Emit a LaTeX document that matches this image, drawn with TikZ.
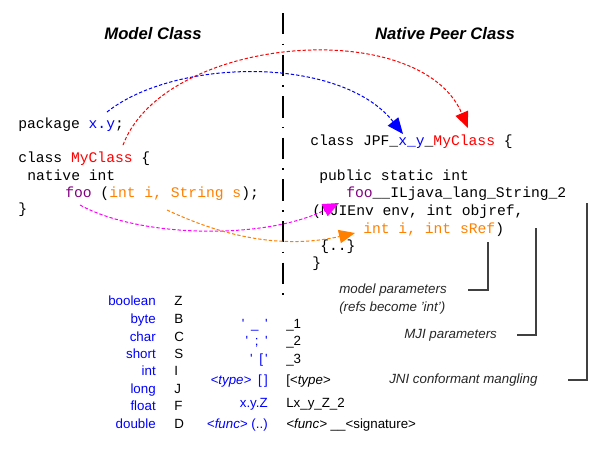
\documentclass[tikz,border=0pt]{standalone}
\usepackage{fontspec}
\setmainfont{Liberation Sans}
\setmonofont{Liberation Mono}
\usepackage{xcolor}
\usepackage{tikz}
\usetikzlibrary{
    arrows.meta
}
\definecolor{pkgblue}{RGB}{0,0,255}
\definecolor{clsred}{RGB}{255,0,0}
\definecolor{funcpurple}{RGB}{128,0,128}
\definecolor{argorange}{RGB}{255,128,0}
\definecolor{linkmagenta}{RGB}{255,0,255}
\tikzset{
    code/.style={
        anchor=base west, inner sep=0pt,
        font=\fontsize{11}{13}\selectfont\ttfamily
    },
    coltitle/.style={
        anchor=base, inner sep=0pt,
        font=\fontsize{12.5}{15}\selectfont\bfseries\itshape
    },
    note/.style={
        anchor=base west, inner sep=0pt, text=black!85,
        font=\fontsize{10}{12}\selectfont\itshape
    },
    sig/.style={
        inner sep=0pt, font=\fontsize{10}{12}\selectfont
    },
    link/.style={
        -{Triangle[length=12pt,width=10pt]}, line width=0.75pt,
        dash pattern=on 2.5pt off 1.5pt
    },
    bracket/.style={
        line width=1.5pt, draw=black!75
    }
}

\begin{document}
\begin{tikzpicture}[x=0.75pt, y=-0.75pt]
    \useasboundingbox (0,0) rectangle (601,461);

    % --- TITLES ---
    \node[coltitle] (modelTitle) at (153,39) {Model Class};
    \node[coltitle] (peerTitle) at (445,39) {Native Peer Class};

    % --- DIVIDER ---
    \coordinate (splitTop) at (283,13);
    \coordinate (splitBottom) at (283,295);
    \draw[line width=1.1pt, dash pattern=on 16pt off 7pt on 1.2pt off 7pt] (splitTop) -- (splitBottom);

    % --- MODEL CLASS (left) ---
    \node[code] (pkgLine) at (18,128) {package \textcolor{pkgblue}{x.y};};
    \node[code] (classLine) at (18,162) {class \textcolor{clsred}{MyClass} \{};
    \node[code] (nativeLine) at (27,180) {native int};
    \node[code] (fooLine) at (65,197) {\textcolor{funcpurple}{foo} (\textcolor{argorange}{int i, String s});};
    \node[code] (closeLine) at (18,213) {\}};

    % --- NATIVE PEER CLASS (right) ---
    \node[code] (peerClass) at (310,145) {class JPF\_\textcolor{pkgblue}{x\_y}\_\textcolor{clsred}{MyClass} \{};
    \node[code] (peerPublic) at (319,180) {public static int};
    \node[code] (peerFoo) at (346,197) {\textcolor{funcpurple}{foo}\_\_ILjava\_lang\_String\_2};
    \node[code] (peerEnv) at (312,215) {(MJIEnv env, int objref,};
    \node[code] (peerArgs) at (363,233) {\textcolor{argorange}{int i, int sRef})};
    \node[code] (peerBody) at (320,250) {\{..\}};
    \node[code] (peerClose) at (312,267) {\}};

    % --- MAPPING ARROWS ---
    \coordinate (pkgFrom) at (107,112);
    \coordinate (pkgTo) at (403,134);
    \coordinate (clsFrom) at (123,145);
    \coordinate (clsTo) at (468,128);
    \coordinate (fooFrom) at (80,205);
    \coordinate (fooTo) at (339,203);
    \coordinate (argFrom) at (167,210);
    \coordinate (argTo) at (355,233);
    \draw[link, pkgblue] (pkgFrom) .. controls (175,58) and (340,55) .. (pkgTo);
    \draw[link, clsred] (clsFrom) .. controls (165,35) and (420,15) .. (clsTo);
    \draw[link, linkmagenta] (fooFrom) .. controls (140,238) and (265,240) .. (fooTo);
    \draw[link, argorange] (argFrom) .. controls (220,235) and (280,250) .. (argTo);

    % --- ANNOTATIONS ---
    \node[note] (modelParams) at (339,293) {model parameters};
    \node[note] (refsNote) at (339,311) {(refs become 'int')};
    \node[note] (mjiParams) at (404,338) {MJI parameters};
    \node[note] (jniMangling) at (389,383) {JNI conformant mangling};
    \coordinate (modelTop) at (488,242);
    \coordinate (modelEnd) at (468,290);
    \coordinate (mjiTop) at (536,228);
    \coordinate (mjiEnd) at (517,335);
    \coordinate (jniTop) at (587,203);
    \coordinate (jniEnd) at (568,380);
    \draw[bracket] (modelTop) |- (modelEnd);
    \draw[bracket] (mjiTop) |- (mjiEnd);
    \draw[bracket] (jniTop) |- (jniEnd);

    % --- TYPE SIGNATURES ---
    \foreach \jtype/\jcode/\ypos in {boolean/Z/305, byte/B/323, char/C/341, short/S/358,
                                     int/I/375, long/J/393, float/F/410, double/D/428} {
        \node[sig, anchor=base east, text=pkgblue] (type-\jcode) at (156,\ypos) {\jtype};
        \node[sig, anchor=base west] (code-\jcode) at (174,\ypos) {\jcode};
    }

    % --- NAME MANGLING ---
    \node[sig, anchor=base east, text=pkgblue] (underSrc) at (268,328) {\textquotesingle\enspace\_\enspace\textquotesingle};
    \node[sig, anchor=base west] (underDst) at (286,328) {\_1};
    \node[sig, anchor=base east, text=pkgblue] (semiSrc) at (268,345) {\textquotesingle\enspace;\enspace\textquotesingle};
    \node[sig, anchor=base west] (semiDst) at (286,345) {\_2};
    \node[sig, anchor=base east, text=pkgblue] (brackSrc) at (268,363) {\textquotesingle\enspace[\,\textquotesingle};
    \node[sig, anchor=base west] (brackDst) at (286,363) {\_3};
    \node[sig, anchor=base east, text=pkgblue] (arraySrc) at (268,384) {\textit{<type>}\enspace[\,]};
    \node[sig, anchor=base west] (arrayDst) at (286,384) {[\textit{<type>}};
    \node[sig, anchor=base east, text=pkgblue] (objSrc) at (268,407) {x.y.Z};
    \node[sig, anchor=base west] (objDst) at (286,407) {Lx\_y\_Z\_2};
    \node[sig, anchor=base east, text=pkgblue] (funcSrc) at (268,428) {\textit{<func>} (..)};
    \node[sig, anchor=base west] (funcDst) at (286,428) {\textit{<func>} \_\_<signature>};

\end{tikzpicture}
\end{document}
